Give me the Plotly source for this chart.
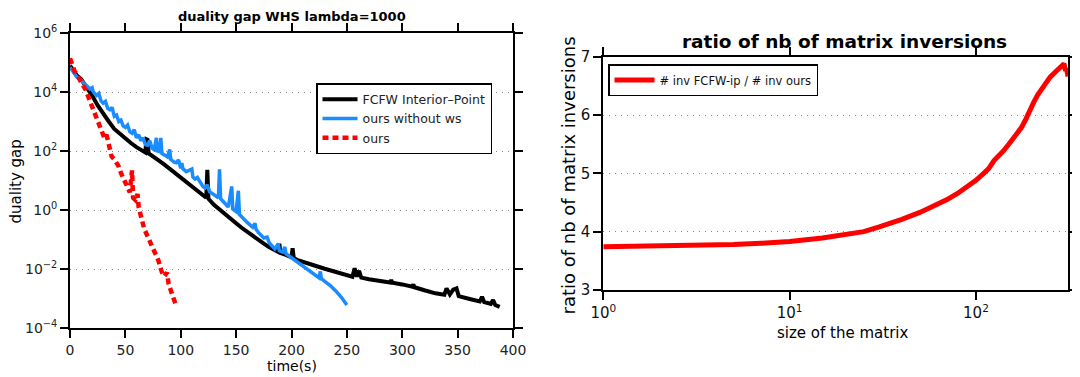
import plotly.graph_objects as go

# ---------------- left panel data: duality gap vs time ----------------
t_fcfw = [0, 3, 6, 10, 15, 20, 25, 30, 35, 40, 45, 50, 55, 60, 65, 68, 69, 70, 71, 75,
          80, 85, 90, 95, 100, 105, 110, 115, 120, 123, 124, 125, 130, 135, 140, 145, 150,
          155, 160, 165, 170, 175, 180, 185, 188, 189, 190, 195, 200, 201, 202, 205, 210,
          215, 220, 225, 230, 235, 240, 245, 250, 255, 257, 259, 261, 263, 270, 280, 289,
          290, 291, 300, 309, 310, 311, 320, 330, 338, 340, 343, 346, 349, 351, 360, 370,
          372, 374, 380, 382, 384, 388]
gap_fcfw = [7.8e4, 5.0e4, 3.7e4, 2.75e4, 1.5e4, 7.6e3, 3.5e3, 1.8e3, 1.0e3, 560, 380, 257,
            186, 135, 100, 89, 250, 240, 83, 63, 48, 35, 25, 18, 13, 9.3, 6.8, 4.6, 3.2,
            2.6, 23, 2.4, 1.5, 1.07, 0.71, 0.50, 0.355, 0.25, 0.18, 0.13, 0.098, 0.072,
            0.055, 0.043, 0.038, 0.072, 0.035, 0.030, 0.025, 0.051, 0.024, 0.0204, 0.0174,
            0.0155, 0.0135, 0.0117, 0.0102, 0.0089, 0.0078, 0.0068, 0.0060, 0.0055, 0.0105,
            0.0055, 0.0087, 0.0051, 0.0045, 0.0039, 0.00347, 0.0042, 0.0034, 0.0030, 0.0025,
            0.0030, 0.0024, 0.0019, 0.0015, 0.00135, 0.0022, 0.00138, 0.0020, 0.0022,
            0.0012, 0.00098, 0.00079, 0.00115, 0.00076, 0.00066, 0.00089, 0.0006, 0.00052]

t_nows = [0, 3, 6, 10, 14, 18, 20, 21, 24, 26, 28, 30, 32, 34, 36, 38, 40, 42, 44, 46, 48,
          50, 52, 54, 56, 58, 60, 62, 64, 66, 68, 70, 72, 74, 76, 78, 79, 81, 82, 83, 86,
          88, 90, 91, 94, 96, 98, 100, 101, 102, 105, 107, 110, 111, 113, 115, 118, 120,
          122, 124, 126, 130, 134, 135, 136, 140, 143, 146, 147, 150, 152, 153, 156, 160,
          165, 167, 168, 170, 175, 178, 180, 185, 188, 189, 192, 194, 195, 200, 205, 210,
          215, 220, 225, 226, 227, 230, 235, 240, 245, 250]
gap_nows = [6.9e4, 4.5e4, 3.3e4, 2.5e4, 1.8e4, 1.26e4, 1.4e4, 1.0e4, 7.6e3, 8.9e3, 5.0e3,
            4.2e3, 4.8e3, 2.8e3, 2.5e3, 3.0e3, 1.5e3, 1.66e3, 1.0e3, 1.12e3, 710, 630, 760,
            450, 400, 525, 280, 355, 224, 280, 166, 158, 224, 126, 112, 280, 100, 95, 280,
            83, 71, 63, 112, 52, 42, 40, 50, 26, 39, 25, 20, 22, 24.5, 13, 11.2, 12.6, 7.6,
            6.3, 5.6, 7.1, 4.2, 3.3, 2.6, 24, 2.4, 1.66, 1.26, 6.3, 1.07, 0.89, 4.5, 0.71,
            0.52, 0.38, 0.26, 0.355, 0.22, 0.174, 0.112, 0.12, 0.076, 0.048, 0.072, 0.042,
            0.038, 0.056, 0.033, 0.024, 0.0174, 0.0126, 0.0093, 0.0069, 0.0050, 0.0083,
            0.0047, 0.0038, 0.00275, 0.0018, 0.0011, 0.0006]

t_ours = [0, 2, 4, 6, 9, 12, 14, 16.5, 19, 22.6, 25, 28.6, 31, 33, 35, 37.6, 40, 42.5, 44,
          46, 48.7, 51.8, 54, 56, 57, 59, 61, 62, 64, 67, 70.4, 73, 75, 78, 79.8, 82.9, 85,
          87.5, 89, 92, 95.3]
gap_ours = [1.38e5, 8.3e4, 5.2e4, 4.0e4, 2.6e4, 1.66e4, 1.2e4, 6.9e3, 4.0e3, 1.45e3, 890,
            400, 280, 355, 158, 65, 52, 36, 30, 18, 10, 5.9, 4.0, 22, 2.6, 2.2, 3.5, 1.26,
            0.575, 0.23, 0.12, 0.079, 0.049, 0.028, 0.0195, 0.0079, 0.0056, 0.0076, 0.0032,
            0.00145, 0.00066]

left_xticks = [0, 50, 100, 150, 200, 250, 300, 350, 400]
left_yticks = [1e-4, 1e-2, 1e0, 1e2, 1e4, 1e6]
left_yticktext = ["10<sup>−4</sup>", "10<sup>−2</sup>", "10<sup>0</sup>",
                  "10<sup>2</sup>", "10<sup>4</sup>", "10<sup>6</sup>"]

# ---------------- right panel data: ratio vs matrix size ----------------
size = [1, 2, 3, 5, 7, 10, 15, 20, 25, 30, 35, 40, 50, 58, 70, 80, 90, 100, 110, 117, 125,
        131, 140, 150, 160, 169, 175, 184, 195, 205, 215, 225, 238, 250, 265, 280, 294,
        297, 300, 303, 306, 309, 312]
ratio = [3.74, 3.75, 3.76, 3.78, 3.80, 3.83, 3.89, 3.95, 4.00, 4.08, 4.14, 4.21, 4.33,
         4.42, 4.55, 4.66, 4.77, 4.88, 5.00, 5.08, 5.22, 5.28, 5.38, 5.50, 5.62, 5.71,
         5.78, 5.91, 6.10, 6.23, 6.35, 6.45, 6.57, 6.65, 6.73, 6.80, 6.86, 6.88, 6.80,
         6.76, 6.80, 6.72, 6.66]

right_xticks = [1, 10, 100]
right_xticktext = ["10<sup>0</sup>", "10<sup>1</sup>", "10<sup>2</sup>"]
right_yticks = [3, 4, 5, 6, 7]

# page is offset by the default 8px body margin
OFF = 8
W, H = 1080 - OFF, 377 - OFF
FONT = "DejaVu Sans"


def X(px):
    return (px - OFF) / W


def Y(py):
    return 1 - (py - OFF) / H


fig = go.Figure()

fig.add_trace(go.Scatter(x=t_fcfw, y=gap_fcfw, mode="lines", name="FCFW Interior–Point",
                         line=dict(color="black", width=4), xaxis="x", yaxis="y",
                         legend="legend"))
fig.add_trace(go.Scatter(x=t_nows, y=gap_nows, mode="lines", name="ours without ws",
                         line=dict(color="#1a8cff", width=3.5), xaxis="x", yaxis="y",
                         legend="legend"))
fig.add_trace(go.Scatter(x=t_ours, y=gap_ours, mode="lines", name="ours",
                         line=dict(color="#ff0000", width=4.5, dash="6px,4px"),
                         xaxis="x", yaxis="y", legend="legend"))
fig.add_trace(go.Scatter(x=size, y=ratio, mode="lines", name="# inv FCFW-ip / # inv ours",
                         line=dict(color="#ff0000", width=5), xaxis="x2", yaxis="y2",
                         legend="legend2"))

axis_common = dict(showline=True, linecolor="black", linewidth=1.8, mirror="ticks",
                   ticks="outside", ticklen=8, tickwidth=1.5, tickcolor="black",
                   zeroline=False, showgrid=False, automargin=False)

fig.update_layout(
    width=W, height=H,
    margin=dict(l=0, r=0, t=0, b=0, autoexpand=False),
    paper_bgcolor="white", plot_bgcolor="white",
    font=dict(family=FONT, color="black"),
    xaxis=dict(domain=[X(70), X(513)], range=[0, 400], tickvals=left_xticks,
               tickfont=dict(size=14, color="#222"), anchor="y", **axis_common),
    yaxis=dict(domain=[Y(328), Y(33)], type="log", range=[-4, 6],
               tickvals=left_yticks, ticktext=left_yticktext,
               tickfont=dict(size=14, color="#222"), anchor="x",
               **{**axis_common, "showgrid": True}, gridcolor="#888",
               griddash="1px,5px", gridwidth=1),
    xaxis2=dict(domain=[X(603.3), X(1068)], type="log", range=[0, 2.494],
                tickvals=right_xticks, ticktext=right_xticktext,
                tickfont=dict(size=15, color="#111"), anchor="y2", **axis_common),
    yaxis2=dict(domain=[Y(290), Y(56.7)], range=[3, 7], tickvals=right_yticks,
                tickfont=dict(size=15, color="#111"), anchor="x2",
                **{**axis_common, "showgrid": True}, gridcolor="#888",
                griddash="1px,5px", gridwidth=1),
    legend=dict(x=X(316), y=Y(83), xanchor="left", yanchor="top",
                bgcolor="white", bordercolor="black", borderwidth=1.5,
                font=dict(family=FONT, size=12.5, color="#222"),
                tracegroupgap=0, itemwidth=35),
    legend2=dict(x=X(608), y=Y(64), xanchor="left", yanchor="top",
                 bgcolor="white", bordercolor="black", borderwidth=1.5,
                 font=dict(family=FONT, size=11.5, color="#111"), itemwidth=40),
    showlegend=True,
)


def ann(text, px, py, size, bold=False, angle=0):
    fig.add_annotation(text=f"<b>{text}</b>" if bold else text,
                       x=X(px), y=Y(py), xref="paper", yref="paper",
                       xanchor="center", yanchor="middle", showarrow=False,
                       textangle=angle, font=dict(family=FONT, size=size, color="black"))


ann("duality gap WHS lambda=1000", 291.5, 16, 13, bold=True)
ann("duality gap", 15.5, 182, 15, angle=-90)
ann("time(s)", 292, 366, 14)
ann("ratio of nb of matrix inversions", 844, 41, 18.5, bold=True)
ann("ratio of nb of matrix inversions", 567.5, 175, 18, angle=-90)
ann("size of the matrix", 842, 333, 15)

fig.write_html("out.html")
